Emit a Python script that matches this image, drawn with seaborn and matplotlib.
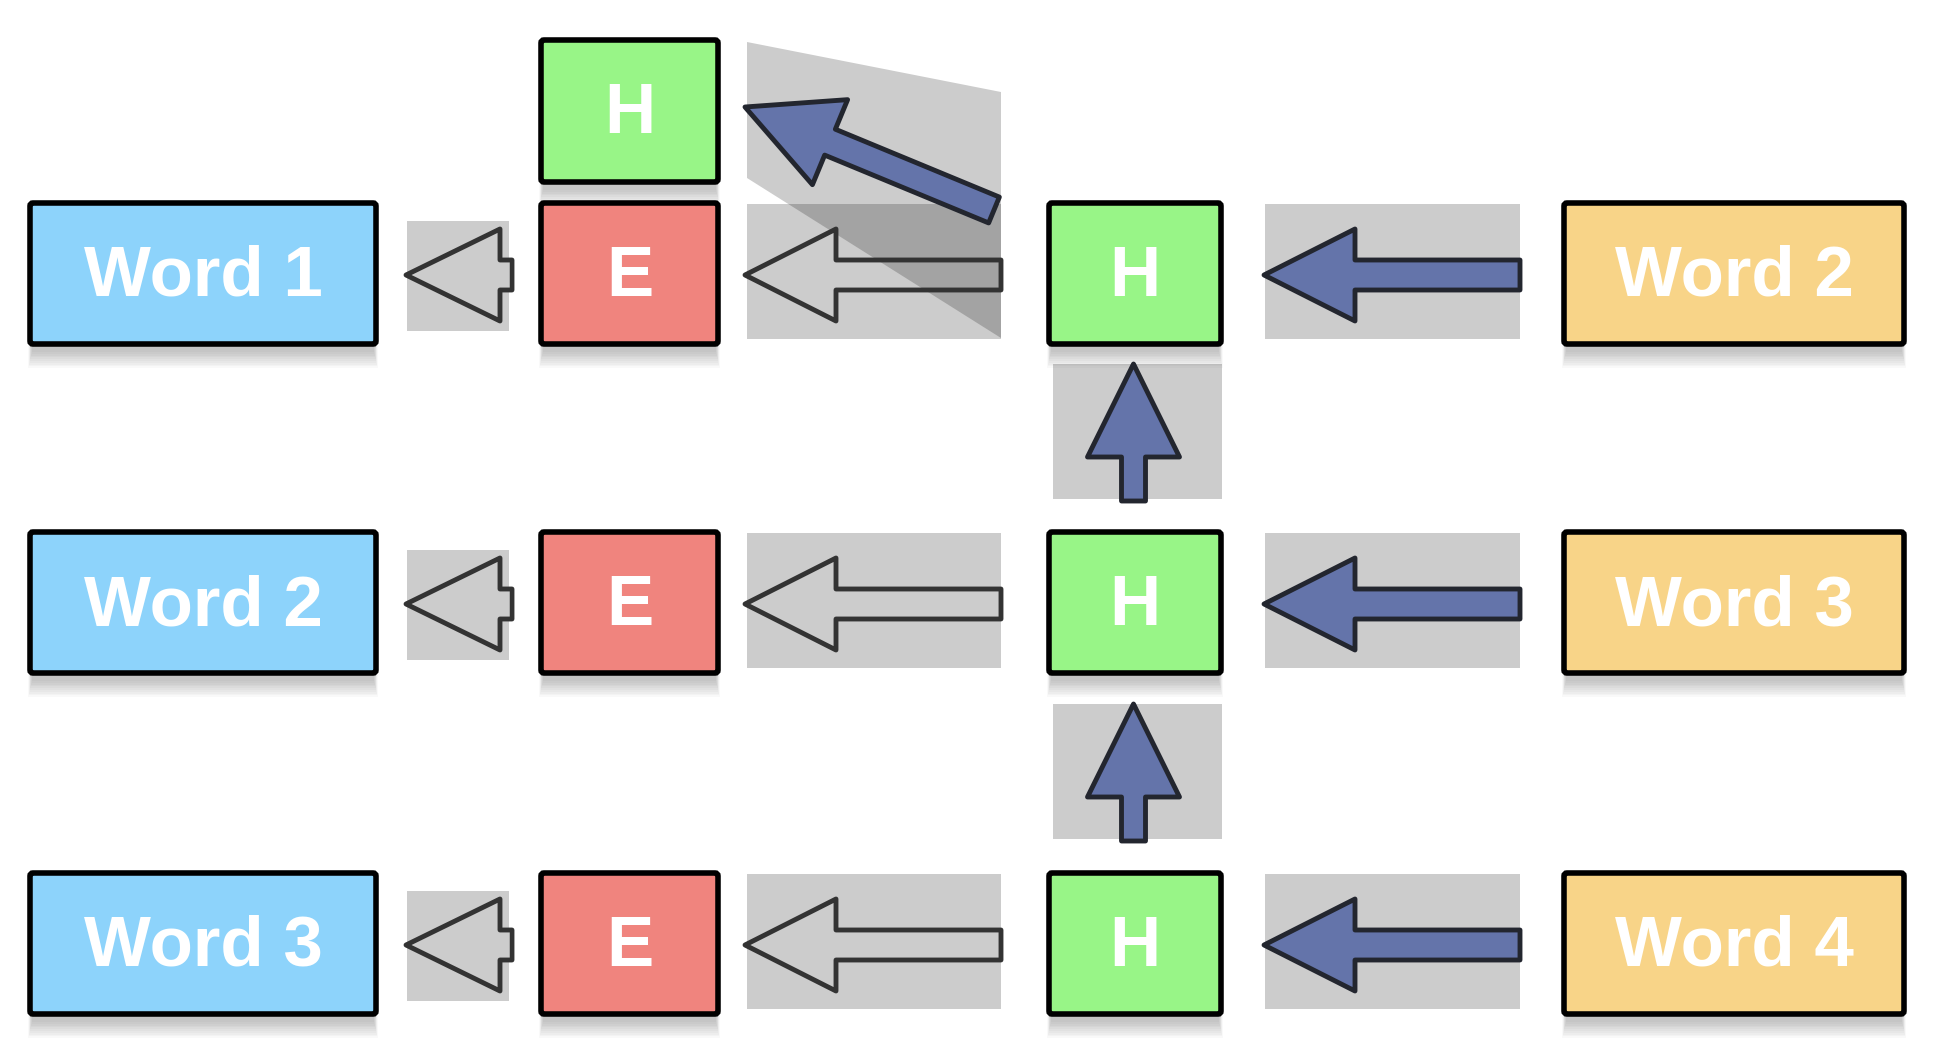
import numpy as np
import matplotlib
matplotlib.use("Agg")
import matplotlib.pyplot as plt
from matplotlib.patches import Rectangle, Polygon, FancyBboxPatch
import seaborn as sns

# %% layout data (pixel units of the 1946x1056 canvas)
ROW_TOPS = [203, 532, 873]
LEFT_WORDS = ["Word 1", "Word 2", "Word 3"]
RIGHT_WORDS = ["Word 2", "Word 3", "Word 4"]
BOX_H = 141
TOP_H_ROW = 40

# column spans: (left, right)
COL_LEFT_WORD = (30, 376)
COL_SMALL_GRAY = (407, 509)
COL_E = (541, 718)
COL_MID_GRAY = (747, 1001)
COL_H = (1049, 1221)
COL_RIGHT_GRAY = (1265, 1520)
COL_RIGHT_WORD = (1564, 1904)
VERT_GRAY_TOPS = [364, 704]
VERT_GRAY_X = (1053, 1222)

COLORS = {"word_left": "#8dd3fb", "E": "#f0847e", "H": "#98f587", "word_right": "#f8d488"}
BLUE = "#6474aa"

sns.set_theme(style="white")
plt.rcParams["font.family"] = ["Liberation Sans", "DejaVu Sans"]


def arrow_poly(tip, tail, head_len, head_half, shaft_half):
    tip = np.array(tip, float)
    tail = np.array(tail, float)
    d = tail - tip
    u = d / np.hypot(*d)
    n = np.array([-u[1], u[0]])
    base = tip + u * head_len
    return np.array([tip, base + n * head_half, base + n * shaft_half, tail + n * shaft_half,
                     tail - n * shaft_half, base - n * shaft_half, base - n * head_half])


def draw_arrow(ax, tip, tail, filled, head_len=92, head_half=46, shaft_half=14):
    pts = arrow_poly(tip, tail, head_len, head_half, shaft_half)
    if filled:
        p = Polygon(pts, closed=True, facecolor=BLUE, edgecolor="#23262f", lw=3.5, joinstyle="round", zorder=4)
    else:
        p = Polygon(pts, closed=True, facecolor="none", edgecolor="#333333", lw=3.5, joinstyle="round", zorder=4)
    ax.add_patch(p)


def draw_box(ax, x0, x1, y0, h, color, label):
    w = x1 - x0
    # soft shadow below the box
    for k in range(10):
        ax.add_patch(Rectangle((x0 + 2 - k * 0.4, y0 + 8 + k * 1.8), w - 4 + k * 0.8, h, facecolor="black",
                               alpha=0.022, lw=0, zorder=1.5))
    ax.add_patch(FancyBboxPatch((x0, y0), w, h, boxstyle="round,pad=0,rounding_size=3", facecolor=color,
                                edgecolor="black", lw=4, zorder=2))
    ax.text((x0 + x1) / 2, y0 + 93, label, color="white", fontsize=51, fontweight="bold",
            ha="center", va="baseline", zorder=3)


def gray(ax, x0, x1, y0, y1):
    ax.add_patch(Rectangle((x0, y0), x1 - x0, y1 - y0, facecolor="black", alpha=0.2, lw=0, zorder=1))


fig = plt.figure(figsize=(19.46, 10.56), dpi=100)
ax = fig.add_axes([0, 0, 1, 1])
ax.set_xlim(0, 1946)
ax.set_ylim(1056, 0)
ax.axis("off")

# gray backgrounds
for top in ROW_TOPS:
    gray(ax, *COL_SMALL_GRAY, top + 18, top + 128)
    gray(ax, *COL_MID_GRAY, top + 1, top + 136)
    gray(ax, *COL_RIGHT_GRAY, top + 1, top + 136)
for top in VERT_GRAY_TOPS:
    gray(ax, *VERT_GRAY_X, top, top + 135)
ax.add_patch(Polygon([(747, 42), (1001, 92), (1001, 338), (747, 178)], closed=True,
                     facecolor="black", alpha=0.2, lw=0, zorder=1))

# boxes
for top, lw_, rw_ in zip(ROW_TOPS, LEFT_WORDS, RIGHT_WORDS):
    draw_box(ax, *COL_LEFT_WORD, top, BOX_H, COLORS["word_left"], lw_)
    draw_box(ax, *COL_E, top, BOX_H, COLORS["E"], "E")
    draw_box(ax, *COL_H, top, BOX_H, COLORS["H"], "H")
    draw_box(ax, *COL_RIGHT_WORD, top, BOX_H, COLORS["word_right"], rw_)
draw_box(ax, *COL_E, TOP_H_ROW, 142, COLORS["H"], "H")

# horizontal arrows
for top in ROW_TOPS:
    cy = top + 72
    draw_arrow(ax, (406, cy), (512, cy), filled=False, head_len=94, shaft_half=15)
    draw_arrow(ax, (745, cy), (1001, cy), filled=False, head_len=91, shaft_half=15)
    draw_arrow(ax, (1264, cy), (1520, cy), filled=True, head_len=91, shaft_half=15)

# vertical arrows
cx = (VERT_GRAY_X[0] + VERT_GRAY_X[1]) / 2 - 4
for top in VERT_GRAY_TOPS:
    draw_arrow(ax, (cx, top), (cx, top + 137), filled=True, head_len=93, shaft_half=12)

# diagonal arrow
draw_arrow(ax, (745, 107), (994, 210), filled=True, head_len=92, head_half=46, shaft_half=14)

fig.savefig("out.png", dpi=100, facecolor="white")
